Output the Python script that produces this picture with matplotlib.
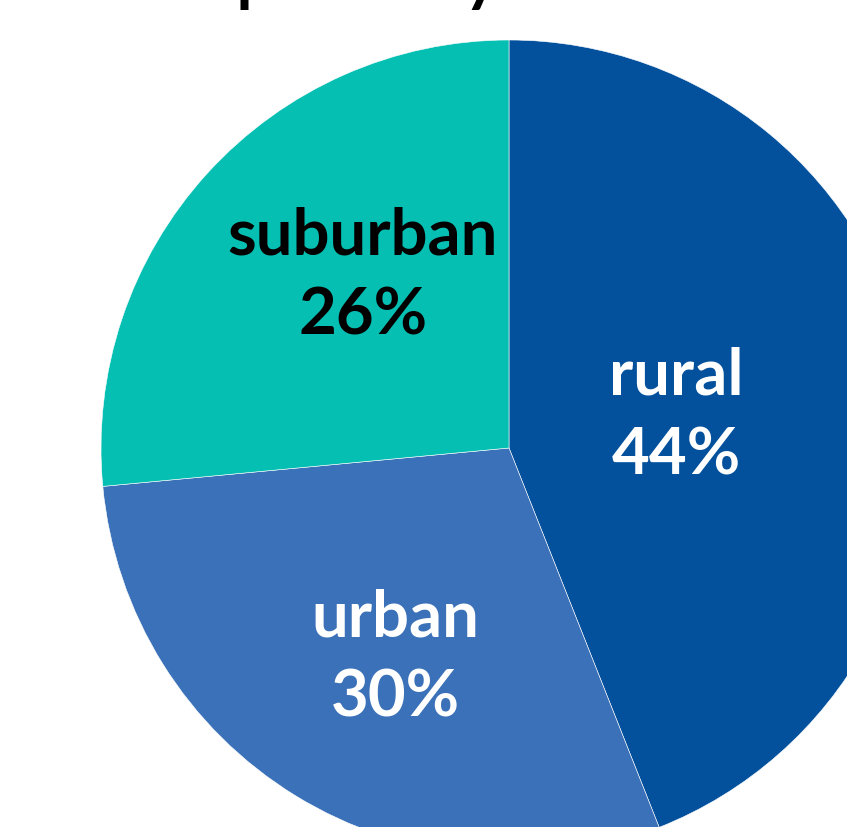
import matplotlib
matplotlib.use("Agg")
import matplotlib.pyplot as plt

# data
categories = ["rural", "urban", "suburban"]
shares = [44.0, 29.5, 26.5]
colors = ["#03519c", "#3b71b8", "#05bfb3"]
label_colors = ["white", "white", "black"]
title = "Response by area"

# label centres in pixel coords (x, y from top)
label_pos = [(676, 416), (395, 658), (363, 276)]

W, H = 847, 828
fig = plt.figure(figsize=(W / 100, H / 100), dpi=100)
ax = fig.add_axes([0, 0, 1, 1])

ax.pie(shares, colors=colors, startangle=90, counterclock=False,
       center=(509, H - 449), radius=408, frame=True,
       wedgeprops=dict(edgecolor="white", linewidth=0.4))
ax.set_xlim(0, W)
ax.set_ylim(0, H)
ax.set_aspect("equal")
ax.axis("off")

for name, val, c, (x, y) in zip(categories, shares, label_colors, label_pos):
    ax.text(x, H - y, f"{name}\n{round(val)}%", ha="center", va="center",
            fontsize=47, fontweight="bold", family="Lato", color=c,
            linespacing=1.45)

# title sits above the crop; only its descenders show
ax.text(131, H + 1, title, ha="left", va="baseline", fontsize=47,
        fontweight="bold", family="Lato", color="black", clip_on=False)

fig.savefig("out.png", dpi=100)
